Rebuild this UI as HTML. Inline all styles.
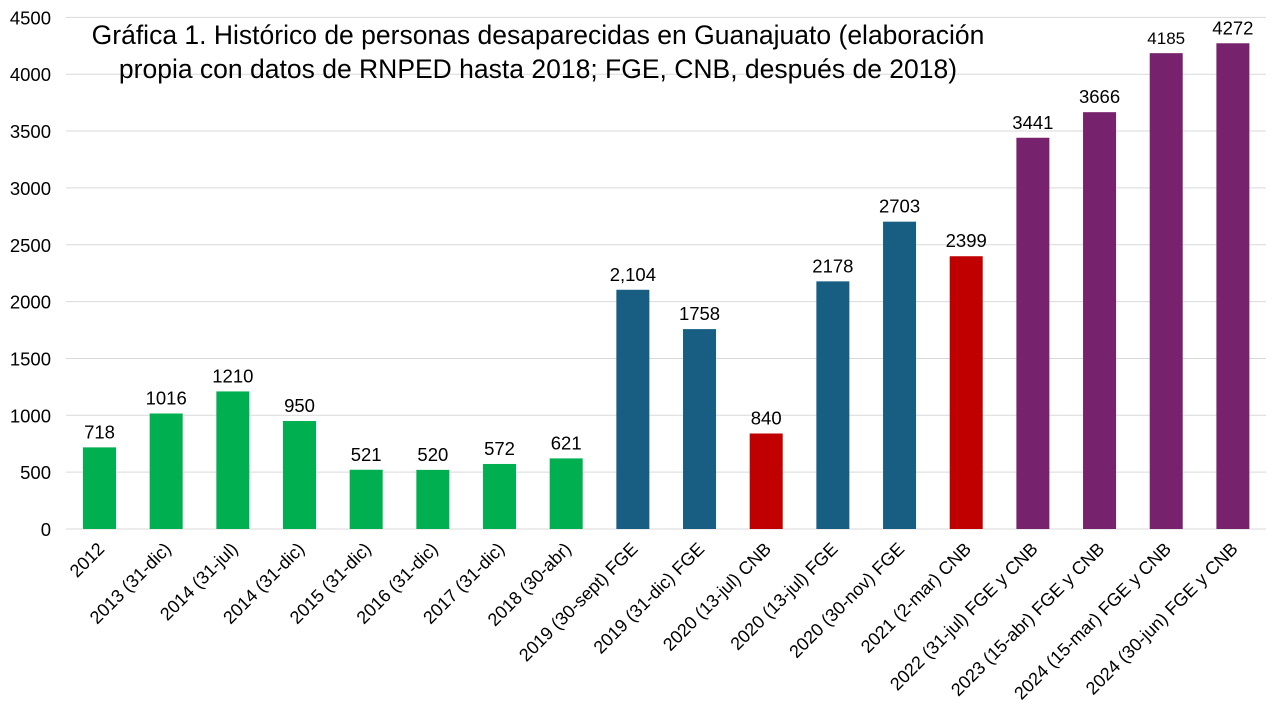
<!DOCTYPE html>
<html><head><meta charset="utf-8"><style>body{margin:0;background:#fff}svg{display:block}text{font-family:"Liberation Sans",Arial,sans-serif;fill:#000}</style></head>
<body>
<svg width="1280" height="720" viewBox="0 0 1280 720" xmlns="http://www.w3.org/2000/svg">
<g id="grid" stroke="#d9d9d9" stroke-width="1"></g>
<g id="bars"></g>
<g id="ylab" font-size="18.5" text-anchor="end"></g>
<g id="vlab" font-size="18.5" text-anchor="middle"></g>
<g id="xlab" font-size="18" text-anchor="end"></g>
<text x="538" y="44" font-size="26.5" text-anchor="middle">Gráfica 1. Histórico de personas desaparecidas en Guanajuato (elaboración</text>
<text x="538" y="78" font-size="26.5" text-anchor="middle">propia con datos de RNPED hasta 2018; FGE, CNB, después de 2018)</text>
<script>
var ns="http://www.w3.org/2000/svg";
function el(t,a,p,txt){var e=document.createElementNS(ns,t);for(var k in a)e.setAttribute(k,a[k]);if(txt!=null)e.textContent=txt;document.getElementById(p).appendChild(e);}
var base=529,sc=56.85/500;
for(var i=0;i<=9;i++){var y=base-i*500*sc;el("line",{x1:66,x2:1266,y1:y,y2:y},"grid");el("text",{x:51,y:y+7},"ylab",String(i*500));}
var d=[[718,"2012","g"],[1016,"2013 (31-dic)","g"],[1210,"2014 (31-jul)","g"],[950,"2014 (31-dic)","g"],[521,"2015 (31-dic)","g"],[520,"2016 (31-dic)","g"],[572,"2017 (31-dic)","g"],[621,"2018 (30-abr)","g"],[2104,"2019 (30-sept) FGE","b","2,104"],[1758,"2019 (31-dic) FGE","b"],[840,"2020 (13-jul) CNB","r"],[2178,"2020 (13-jul) FGE","b"],[2703,"2020 (30-nov) FGE","b"],[2399,"2021 (2-mar) CNB","r"],[3441,"2022 (31-jul) FGE y CNB","p"],[3666,"2023 (15-abr) FGE y CNB","p"],[4185,"2024 (15-mar) FGE y CNB","p"],[4272,"2024 (30-jun) FGE y CNB","p"]];
var col={g:"#00B050",b:"#175E82",r:"#C00000",p:"#76226C"};
d.forEach(function(v,i){var cx=99.5+i*66.67,h=v[0]*sc;
el("rect",{x:cx-16.5,y:base-h,width:33,height:h,fill:col[v[2]]},"bars");
el("text",{x:cx,y:base-h-9,"font-size":(v[0]==4185?17:18.5)},"vlab",v[3]||String(v[0]));
el("text",{x:cx+6,y:550,transform:"rotate(-45 "+(cx+6)+" 550)"},"xlab",v[1]);});
</script>
</svg>
</body></html>
